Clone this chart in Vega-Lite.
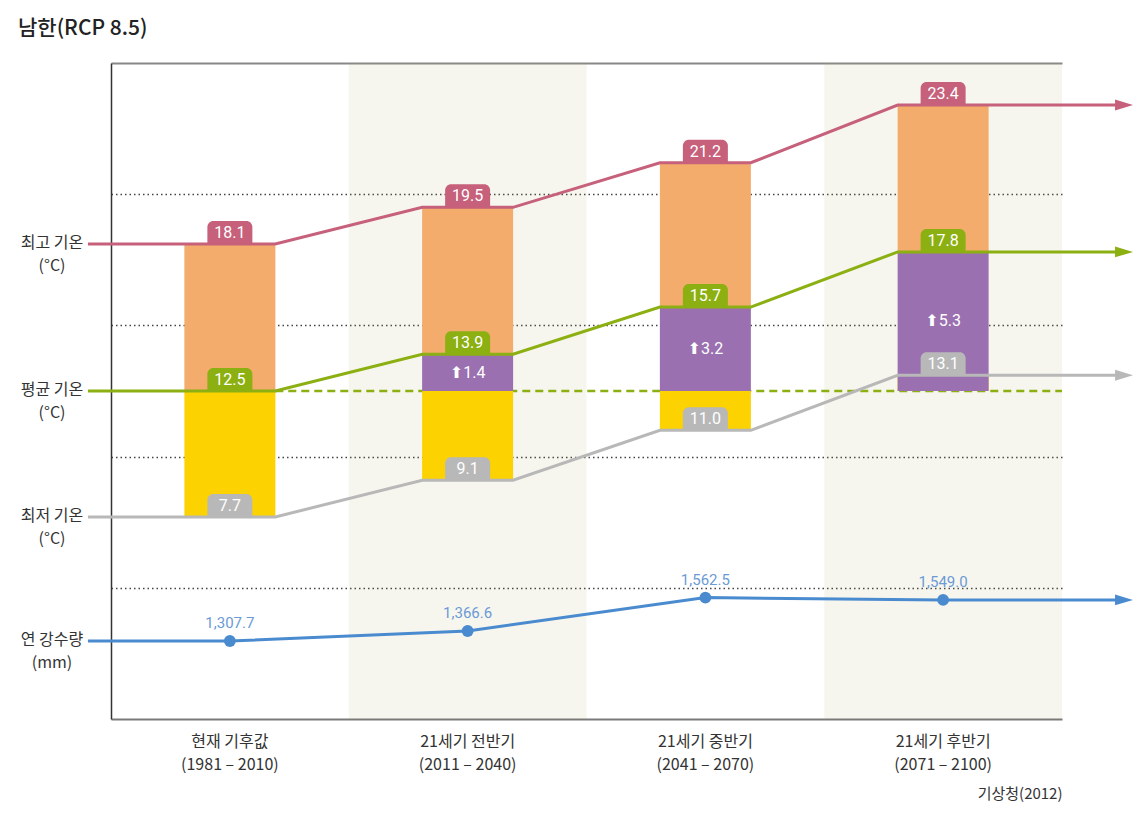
{
  "$schema": "https://vega.github.io/schema/vega-lite/v6.json",
  "width": 951,
  "height": 656,
  "autosize": {"type": "none"},
  "padding": {"left": 111, "top": 63, "right": 71, "bottom": 95},
  "background": "white",
  "title": {"text": "남한(RCP 8.5)", "anchor": "start", "frame": "group", "dx": -93, "offset": 24, "fontSize": 21, "font": "Noto Sans CJK KR", "fontWeight": 500, "color": "#222222"},
  "config": {"view": {"stroke": null}, "font": "Noto Sans CJK KR", "scale": {"continuousPadding": 0}},
  "datasets": {
    "d": [
      {"period": "현재 기후값", "years": "1981 – 2010", "i": 0, "max": 18.1, "mean": 12.5, "min": 7.7, "change": 0, "precip": 1307.7},
      {"period": "21세기 전반기", "years": "2011 – 2040", "i": 1, "max": 19.5, "mean": 13.9, "min": 9.1, "change": 1.4, "precip": 1366.6},
      {"period": "21세기 중반기", "years": "2041 – 2070", "i": 2, "max": 21.2, "mean": 15.7, "min": 11.0, "change": 3.2, "precip": 1562.5},
      {"period": "21세기 후반기", "years": "2071 – 2100", "i": 3, "max": 23.4, "mean": 17.8, "min": 13.1, "change": 5.3, "precip": 1549.0}
    ]
  },
  "data": {"name": "d"},
  "resolve": {"scale": {"y": "independent"}, "axis": {"x": "independent"}},
  "layer": [
    {
      "transform": [{"filter": "datum.i % 2 == 1"}, {"calculate": "datum.i - 0.5", "as": "b0"}, {"calculate": "datum.i + 0.5", "as": "b1"}],
      "mark": {"type": "rect", "fill": "rgb(175,165,85)", "fillOpacity": 0.1},
      "encoding": {
        "x": {"field": "b0", "type": "quantitative", "scale": {"domain": [-0.5, 3.5], "nice": false, "zero": false, "padding": 0}, "axis": null},
        "x2": {"field": "b1"},
        "y": {"value": 0},
        "y2": {"value": "height"}
      }
    },
    {
      "transform": [{"filter": "datum.i == 0"}, {"calculate": "datum.i + 0.191", "as": "r0"}, {"calculate": "datum.i + 3.5", "as": "r1"}],
      "mark": {"type": "rule", "strokeDash": [8, 5], "strokeWidth": 2.5, "color": "#8caf12"},
      "encoding": {
        "x": {"field": "r0", "type": "quantitative", "scale": {"domain": [-0.5, 3.5], "nice": false, "zero": false, "padding": 0}, "axis": null},
        "x2": {"field": "r1"},
        "y": {"field": "mean", "type": "quantitative", "scale": {"domain": [0, 25], "nice": false, "zero": false}, "axis": null}
      }
    },
    {
      "transform": [{"joinaggregate": [{"op": "min", "field": "mean", "as": "base"}]}],
      "mark": {"type": "bar", "size": 91, "color": "#fcd200"},
      "encoding": {
        "x": {"field": "i", "type": "quantitative", "scale": {"domain": [-0.5, 3.5], "nice": false, "zero": false, "padding": 0},
          "axis": {"orient": "bottom", "values": [0, 1, 2, 3], "labels": false, "ticks": false, "grid": false, "domainColor": "#7a7a7a", "domainWidth": 2, "title": "기상청(2012)", "titleAnchor": "end", "titleAlign": "right", "titleFontSize": 15, "titleFont": "Noto Sans CJK KR", "titleFontWeight": "normal", "titleColor": "#333333", "titlePadding": 67}},
        "y": {"field": "min", "type": "quantitative", "scale": {"domain": [0, 25], "nice": false, "zero": false},
          "axis": {"values": [5, 10, 15, 20], "labels": false, "ticks": false, "title": null, "domainColor": "#333333", "domainWidth": 1.5, "grid": true, "gridColor": "#444444", "gridDash": [1.5, 3], "gridWidth": 1.3}},
        "y2": {"field": "base"}
      }
    },
    {
      "transform": [{"joinaggregate": [{"op": "min", "field": "mean", "as": "base"}]}],
      "mark": {"type": "bar", "size": 91, "color": "#9a70b0"},
      "encoding": {
        "x": {"field": "i", "type": "quantitative", "scale": {"domain": [-0.5, 3.5], "nice": false, "zero": false, "padding": 0},
          "axis": {"orient": "top", "values": [0, 1, 2, 3], "labels": false, "ticks": false, "grid": false, "domainColor": "#888888", "domainWidth": 2, "title": null}},
        "y": {"field": "base", "type": "quantitative", "scale": {"domain": [0, 25], "nice": false, "zero": false}, "axis": null},
        "y2": {"field": "mean"}
      }
    },
    {
      "mark": {"type": "bar", "size": 91, "color": "#f3ac6b"},
      "encoding": {
        "x": {"field": "i", "type": "quantitative", "scale": {"domain": [-0.5, 3.5], "nice": false, "zero": false, "padding": 0}, "axis": null},
        "y": {"field": "mean", "type": "quantitative", "scale": {"domain": [0, 25], "nice": false, "zero": false}, "axis": null},
        "y2": {"field": "max"}
      }
    },
    {
      "transform": [
        {"fold": ["max", "mean", "min"], "as": ["key", "val"]},
        {"calculate": "datum.i == 0 ? [-0.597, 0.191] : datum.i == 3 ? [2.809, 3.76] : [datum.i - 0.191, datum.i + 0.191]", "as": "xs"},
        {"flatten": ["xs"]}
      ],
      "mark": {"type": "line", "strokeWidth": 3},
      "encoding": {
        "x": {"field": "xs", "type": "quantitative", "scale": {"domain": [-0.5, 3.5], "nice": false, "zero": false, "padding": 0}, "axis": null},
        "y": {"field": "val", "type": "quantitative", "scale": {"domain": [0, 25], "nice": false, "zero": false}, "axis": null},
        "color": {"field": "key", "type": "nominal", "scale": {"domain": ["max", "mean", "min"], "range": ["#c6607b", "#8caf12", "#b8b8b8"]}, "legend": null}
      }
    },
    {
      "transform": [{"filter": "datum.i == 3"}, {"fold": ["max", "mean", "min"], "as": ["key", "val"]}, {"calculate": "datum.i + 0.761", "as": "ax"}],
      "mark": {"type": "point", "shape": "M-1,-0.6L1,0L-1,0.6Z", "size": 324, "filled": true, "opacity": 1},
      "encoding": {
        "x": {"field": "ax", "type": "quantitative", "scale": {"domain": [-0.5, 3.5], "nice": false, "zero": false, "padding": 0}, "axis": null},
        "y": {"field": "val", "type": "quantitative", "scale": {"domain": [0, 25], "nice": false, "zero": false}, "axis": null},
        "color": {"field": "key", "type": "nominal", "scale": {"domain": ["max", "mean", "min"], "range": ["#c6607b", "#8caf12", "#b8b8b8"]}, "legend": null}
      }
    },
    {
      "transform": [{"fold": ["max", "mean", "min"], "as": ["key", "val"]}],
      "mark": {"type": "bar", "size": 45, "y2Offset": -23, "cornerRadiusTopLeft": 6, "cornerRadiusTopRight": 6},
      "encoding": {
        "x": {"field": "i", "type": "quantitative", "scale": {"domain": [-0.5, 3.5], "nice": false, "zero": false, "padding": 0}, "axis": null},
        "y": {"field": "val", "type": "quantitative", "scale": {"domain": [0, 25], "nice": false, "zero": false}, "axis": null},
        "y2": {"field": "val"},
        "color": {"field": "key", "type": "nominal", "scale": {"domain": ["max", "mean", "min"], "range": ["#c6607b", "#8caf12", "#b8b8b8"]}, "legend": null}
      }
    },
    {
      "transform": [{"fold": ["max", "mean", "min"], "as": ["key", "val"]}],
      "mark": {"type": "text", "dy": -11, "baseline": "middle", "align": "center", "fontSize": 16, "font": "Roboto, sans-serif", "color": "#ffffff"},
      "encoding": {
        "x": {"field": "i", "type": "quantitative", "scale": {"domain": [-0.5, 3.5], "nice": false, "zero": false, "padding": 0}, "axis": null},
        "y": {"field": "val", "type": "quantitative", "scale": {"domain": [0, 25], "nice": false, "zero": false}, "axis": null},
        "text": {"field": "val", "type": "quantitative", "format": ".1f"}
      }
    },
    {
      "transform": [{"filter": "datum.change > 0"}, {"calculate": "'⬆' + format(datum.change, '.1f')", "as": "lbl"}, {"calculate": "datum.mean - datum.change / 2", "as": "ymid"}],
      "mark": {"type": "text", "baseline": "middle", "align": "center", "fontSize": 16, "font": "Roboto, DejaVu Sans, sans-serif", "color": "#ffffff"},
      "encoding": {
        "x": {"field": "i", "type": "quantitative", "scale": {"domain": [-0.5, 3.5], "nice": false, "zero": false, "padding": 0}, "axis": null},
        "y": {"field": "ymid", "type": "quantitative", "scale": {"domain": [0, 25], "nice": false, "zero": false}, "axis": null},
        "text": {"field": "lbl", "type": "nominal"}
      }
    },
    {
      "transform": [{"calculate": "datum.period + '\\n(' + datum.years + ')'", "as": "xl"}],
      "mark": {"type": "text", "baseline": "top", "dy": 15, "align": "center", "fontSize": 16, "lineHeight": 23, "lineBreak": "\n", "color": "#333333", "font": "Noto Sans CJK KR"},
      "encoding": {
        "x": {"field": "i", "type": "quantitative", "scale": {"domain": [-0.5, 3.5], "nice": false, "zero": false, "padding": 0}, "axis": null},
        "y": {"value": "height"},
        "text": {"field": "xl", "type": "nominal"}
      }
    },
    {
      "transform": [{"filter": "datum.i == 0"}, {"calculate": "datum.i - 0.748", "as": "lx"}],
      "mark": {"type": "text", "baseline": "top", "dy": -9, "align": "center", "fontSize": 16, "lineHeight": 23, "color": "#333333", "font": "Noto Sans CJK KR"},
      "encoding": {
        "x": {"field": "lx", "type": "quantitative", "scale": {"domain": [-0.5, 3.5], "nice": false, "zero": false, "padding": 0}, "axis": null},
        "y": {"field": "max", "type": "quantitative", "scale": {"domain": [0, 25], "nice": false, "zero": false}, "axis": null},
        "text": {"value": ["최고 기온", "(°C)"]}
      }
    },
    {
      "transform": [{"filter": "datum.i == 0"}, {"calculate": "datum.i - 0.748", "as": "lx"}],
      "mark": {"type": "text", "baseline": "top", "dy": -9, "align": "center", "fontSize": 16, "lineHeight": 23, "color": "#333333", "font": "Noto Sans CJK KR"},
      "encoding": {
        "x": {"field": "lx", "type": "quantitative", "scale": {"domain": [-0.5, 3.5], "nice": false, "zero": false, "padding": 0}, "axis": null},
        "y": {"field": "mean", "type": "quantitative", "scale": {"domain": [0, 25], "nice": false, "zero": false}, "axis": null},
        "text": {"value": ["평균 기온", "(°C)"]}
      }
    },
    {
      "transform": [{"filter": "datum.i == 0"}, {"calculate": "datum.i - 0.748", "as": "lx"}],
      "mark": {"type": "text", "baseline": "top", "dy": -9, "align": "center", "fontSize": 16, "lineHeight": 23, "color": "#333333", "font": "Noto Sans CJK KR"},
      "encoding": {
        "x": {"field": "lx", "type": "quantitative", "scale": {"domain": [-0.5, 3.5], "nice": false, "zero": false, "padding": 0}, "axis": null},
        "y": {"field": "min", "type": "quantitative", "scale": {"domain": [0, 25], "nice": false, "zero": false}, "axis": null},
        "text": {"value": ["최저 기온", "(°C)"]}
      }
    },
    {
      "transform": [
        {"calculate": "datum.i == 0 ? [-0.597, 0] : datum.i == 3 ? [3, 3.76] : [datum.i]", "as": "xs"},
        {"flatten": ["xs"]}
      ],
      "mark": {"type": "line", "strokeWidth": 3, "color": "#4a8bd0"},
      "encoding": {
        "x": {"field": "xs", "type": "quantitative", "scale": {"domain": [-0.5, 3.5], "nice": false, "zero": false, "padding": 0}, "axis": null},
        "y": {"field": "precip", "type": "quantitative", "scale": {"domain": [850, 4700], "nice": false, "zero": false}, "axis": null}
      }
    },
    {
      "mark": {"type": "point", "shape": "circle", "size": 140, "filled": true, "opacity": 1, "color": "#4a8bd0"},
      "encoding": {
        "x": {"field": "i", "type": "quantitative", "scale": {"domain": [-0.5, 3.5], "nice": false, "zero": false, "padding": 0}, "axis": null},
        "y": {"field": "precip", "type": "quantitative", "scale": {"domain": [850, 4700], "nice": false, "zero": false}, "axis": null}
      }
    },
    {
      "transform": [{"filter": "datum.i == 3"}, {"calculate": "datum.i + 0.761", "as": "ax"}],
      "mark": {"type": "point", "shape": "M-1,-0.6L1,0L-1,0.6Z", "size": 324, "filled": true, "opacity": 1, "color": "#4a8bd0"},
      "encoding": {
        "x": {"field": "ax", "type": "quantitative", "scale": {"domain": [-0.5, 3.5], "nice": false, "zero": false, "padding": 0}, "axis": null},
        "y": {"field": "precip", "type": "quantitative", "scale": {"domain": [850, 4700], "nice": false, "zero": false}, "axis": null}
      }
    },
    {
      "mark": {"type": "text", "dy": -18, "baseline": "middle", "align": "center", "fontSize": 15, "font": "Roboto, sans-serif", "color": "#6b9ad6"},
      "encoding": {
        "x": {"field": "i", "type": "quantitative", "scale": {"domain": [-0.5, 3.5], "nice": false, "zero": false, "padding": 0}, "axis": null},
        "y": {"field": "precip", "type": "quantitative", "scale": {"domain": [850, 4700], "nice": false, "zero": false}, "axis": null},
        "text": {"field": "precip", "type": "quantitative", "format": ",.1f"}
      }
    },
    {
      "transform": [{"filter": "datum.i == 0"}, {"calculate": "datum.i - 0.748", "as": "lx"}],
      "mark": {"type": "text", "baseline": "top", "dy": -9, "align": "center", "fontSize": 16, "lineHeight": 23, "color": "#333333", "font": "Noto Sans CJK KR"},
      "encoding": {
        "x": {"field": "lx", "type": "quantitative", "scale": {"domain": [-0.5, 3.5], "nice": false, "zero": false, "padding": 0}, "axis": null},
        "y": {"field": "precip", "type": "quantitative", "scale": {"domain": [850, 4700], "nice": false, "zero": false}, "axis": null},
        "text": {"value": ["연 강수량", "(mm)"]}
      }
    }
  ]
}
